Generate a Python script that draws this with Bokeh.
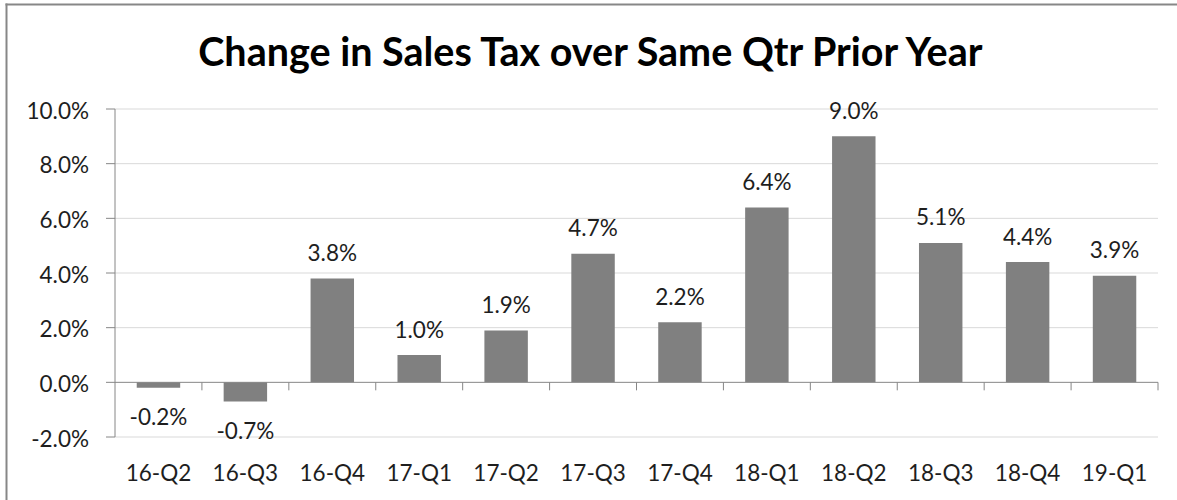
from bokeh.plotting import figure
from bokeh.models import Range1d, ColumnDataSource
from bokeh.core.properties import value
from bokeh.embed import file_html
from bokeh.resources import INLINE

# ---- data ----
categories = ["16-Q2", "16-Q3", "16-Q4", "17-Q1", "17-Q2", "17-Q3",
              "17-Q4", "18-Q1", "18-Q2", "18-Q3", "18-Q4", "19-Q1"]
change_pct = [-0.2, -0.7, 3.8, 1.0, 1.9, 4.7, 2.2, 6.4, 9.0, 5.1, 4.4, 3.9]
y_ticks = [-2, 0, 2, 4, 6, 8, 10]
title_text = "Change in Sales Tax over Same Qtr Prior Year"

FONT = value("Lato")
AXIS_GRAY = "#868686"
GRID_GRAY = "#d9d9d9"
BAR_GRAY = "#808080"
BORDER_GRAY = "#878787"
TXT = "#1e1e1e"
FS = "22.5px"

n = len(categories)
y_min, y_max = min(y_ticks), max(y_ticks)

# ---- geometry (pixels on the page) ----
W, H = 1177, 500
AX_LEFT, AX_RIGHT = 114.5, 1157.5     # y axis line / right end of plot area
Y_TOP, Y_BOT = 108.5, 436.5           # top and bottom gridlines
ppx = (AX_RIGHT - AX_LEFT) / n
ppu = (Y_BOT - Y_TOP) / (y_max - y_min)

xs = -AX_LEFT / ppx
ye = y_max + Y_TOP / ppu
p = figure(width=W, height=H, output_backend="svg", toolbar_location=None,
           title=None, x_axis_type=None, y_axis_type=None,
           x_range=Range1d(xs, xs + W / ppx), y_range=Range1d(ye - H / ppu, ye),
           min_border_left=0, min_border_right=0, min_border_top=0, min_border_bottom=0)
p.outline_line_color = None
p.background_fill_color = "white"
p.border_fill_color = "white"
p.grid.visible = False


def px_x(px):
    return xs + px / ppx


def px_y(py):
    return ye - py / ppu


centers = [i + 0.5 for i in range(n)]

# chart box border (top and left edges are inside the picture)
p.segment(x0=[px_x(6), px_x(5)], y0=[px_y(3), px_y(4)],
          x1=[px_x(6), px_x(W + 5)], y1=[px_y(H + 5), px_y(4)],
          line_color=BORDER_GRAY, line_width=2)

# gridlines (non-zero ticks)
grid_y = [t for t in y_ticks if t != 0]
p.segment(x0=[0] * len(grid_y), y0=grid_y, x1=[n] * len(grid_y), y1=grid_y,
          line_color=GRID_GRAY, line_width=1)

# bars
src = ColumnDataSource(dict(x=centers, val=change_pct))
p.vbar(x="x", top="val", bottom=0, width=0.5, source=src,
       fill_color=BAR_GRAY, line_color=None)

# y axis line, ticks and tick labels
p.segment(x0=[0], y0=[y_min], x1=[0], y1=[y_max], line_color=AXIS_GRAY, line_width=1)
tick_dx = 9 / ppx
p.segment(x0=[-tick_dx] * len(y_ticks), y0=y_ticks, x1=[0] * len(y_ticks), y1=y_ticks,
          line_color=AXIS_GRAY, line_width=1)
ysrc = ColumnDataSource(dict(x=[0] * len(y_ticks), y=y_ticks,
                             txt=[f"{t:.1f}%" for t in y_ticks]))
p.text(x="x", y="y", text="txt", source=ysrc, x_offset=-26, y_offset=1,
       text_align="right", text_baseline="middle", text_font=FONT,
       text_font_size=FS, text_color=TXT)

# zero line with category-boundary ticks
p.segment(x0=[0], y0=[0], x1=[n], y1=[0], line_color=AXIS_GRAY, line_width=1)
bounds = list(range(1, n + 1))
tick_dy = 8 / ppu
p.segment(x0=bounds, y0=[0] * n, x1=bounds, y1=[-tick_dy] * n,
          line_color=AXIS_GRAY, line_width=1)

# category labels below the plot area
xsrc = ColumnDataSource(dict(x=centers, y=[y_min] * n, txt=categories))
p.text(x="x", y="y", text="txt", source=xsrc, y_offset=35,
       text_align="center", text_baseline="middle", text_font=FONT,
       text_font_size=FS, text_color=TXT)

# data labels
pos = [(x, v) for x, v in zip(centers, change_pct) if v >= 0]
neg = [(x, v) for x, v in zip(centers, change_pct) if v < 0]
for items, off in ((pos, -26), (neg, 29)):
    s = ColumnDataSource(dict(x=[a for a, _ in items], val=[v for _, v in items],
                              txt=[f"{v:.1f}%" for _, v in items]))
    p.text(x="x", y="val", text="txt", source=s, text_align="center",
           text_baseline="middle", y_offset=off, text_font=FONT,
           text_font_size=FS, text_color=TXT)

# title, centred on the chart box
p.text(x=[px_x(592.5)], y=[y_max], text=[title_text], y_offset=-59,
       text_align="center", text_baseline="middle", text_font=FONT,
       text_font_size="39.5px", text_font_style="bold", text_color="#000000")

open("out.html", "w").write(file_html(p, INLINE))
